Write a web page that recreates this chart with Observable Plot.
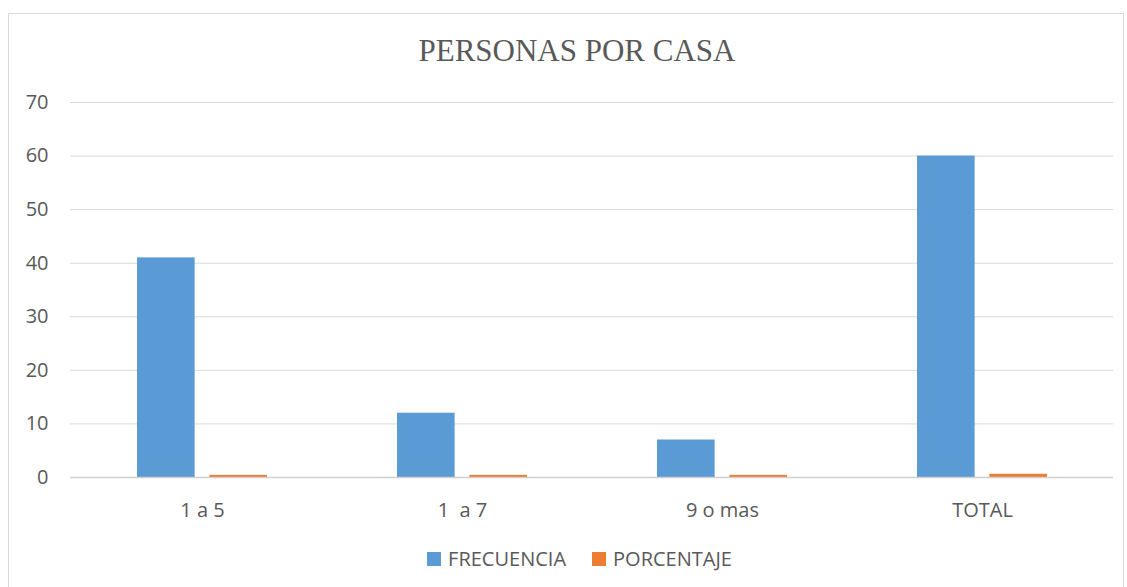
<!DOCTYPE html>
<html><head><meta charset="utf-8">
<script src="https://cdn.jsdelivr.net/npm/d3@7"></script>
<script src="https://cdn.jsdelivr.net/npm/@observablehq/plot@0.6"></script>
<style>
body{margin:0;background:#fff;}
#wrap{position:relative;width:1127px;height:587px;overflow:hidden;}
#frame{position:absolute;left:8px;top:13px;width:1116px;height:580px;border:1px solid #d9d9d9;box-sizing:border-box;}
#title{position:absolute;left:0;width:1154px;top:33px;text-align:center;font-family:"Liberation Serif",serif;font-size:31px;line-height:36px;color:#595959;}
#chart{position:absolute;left:0;top:0;}
#chart svg text{white-space:pre;}
#legend{position:absolute;top:546px;left:0;width:1159px;text-align:center;font-family:"Open Sans","Noto Sans",sans-serif;font-size:20px;line-height:26px;color:#595959;}
.item{display:inline-flex;align-items:center;margin:0 13px;}
.sw{display:inline-block;width:14px;height:14px;margin-right:7px;}
</style></head>
<body>
<div id="wrap">
<div id="frame"></div>
<div id="chart"></div>
<div id="title">PERSONAS POR CASA</div>
<div id="legend"></div>
</div>
<script>
const categories = ["1 a 5", "1  a 7", "9 o mas", "TOTAL"];
const frecuencia = [41, 12, 7, 60];
const porcentaje = [0.4, 0.4, 0.4, 0.6];
const seriesNames = ["FRECUENCIA", "PORCENTAJE"];
const seriesColors = ["#5B9BD5", "#ED7D31"];
const yTicks = [0, 10, 20, 30, 40, 50, 60, 70];

const rowsF = categories.map((c, i) => ({category: c, value: frecuencia[i]}));
const rowsP = categories.map((c, i) => ({category: c, value: porcentaje[i]}));

const bandStep = (1113 - 70) / 4;
const band = bandStep * 0.5;
const barW = 58;
const inset = band - barW;

const plot = Plot.plot({
  width: 1127,
  height: 587,
  marginLeft: 70,
  marginRight: 14,
  marginTop: 102,
  marginBottom: 110,
  style: {fontFamily: '"Open Sans","Noto Sans",sans-serif', fontSize: "20px", color: "#595959", background: "transparent"},
  x: {domain: categories, paddingInner: 0.5, paddingOuter: 0.25, label: null},
  y: {domain: [0, 70], label: null},
  marks: [
    Plot.ruleY(yTicks, {stroke: "#d9d9d9", strokeWidth: 1}),
    Plot.barY(rowsF, {x: "category", y: "value", fill: seriesColors[0], insetRight: inset}),
    Plot.barY(rowsP, {x: "category", y: "value", fill: seriesColors[1], insetLeft: inset}),
    Plot.ruleY([0], {stroke: "#d0d0d0", strokeWidth: 1.5}),
    Plot.axisY(yTicks, {tickSize: 0, tickPadding: 22, fill: "#595959", fontSize: 20, label: null}),
    Plot.axisX({tickSize: 0, tickPadding: 25, fill: "#595959", fontSize: 20, label: null})
  ]
});
document.getElementById("chart").appendChild(plot);

const legend = document.getElementById("legend");
seriesNames.forEach((n, i) => {
  const s = document.createElement("span");
  s.className = "item";
  s.innerHTML = `<span class="sw" style="background:${seriesColors[i]}"></span>${n}`;
  legend.appendChild(s);
});
</script>
</body></html>
